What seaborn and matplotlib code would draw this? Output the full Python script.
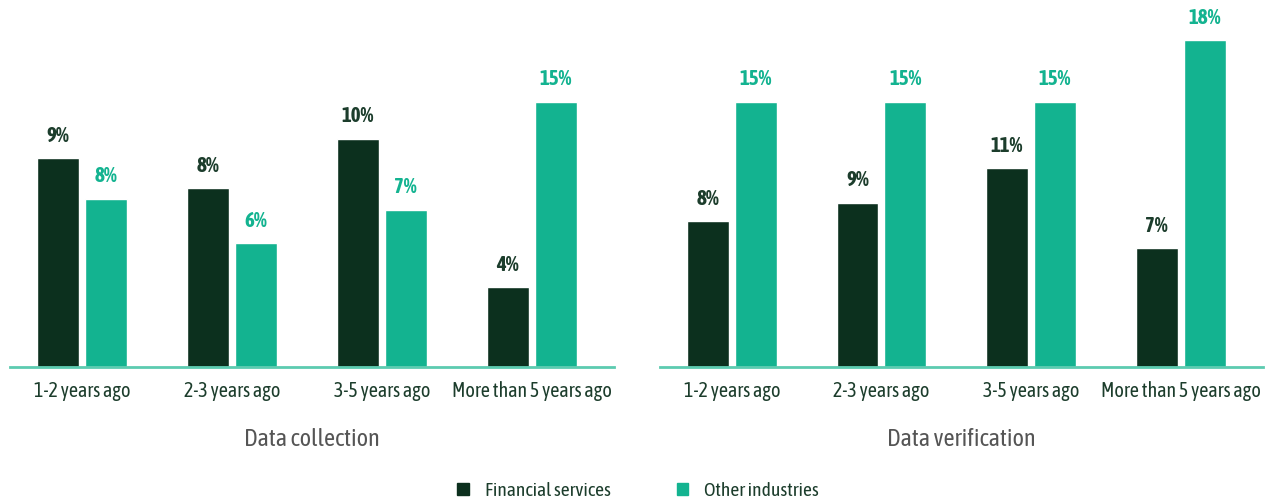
import seaborn as sns
import matplotlib.pyplot as plt
import pandas as pd
from matplotlib import font_manager

# periods and sectors
periods = ["1-2 years ago", "2-3 years ago", "3-5 years ago", "More than 5 years ago"]
sectors = ["Financial services", "Other industries"]

# bar heights (%), and the labels printed on top
collect_fin = [11.8, 10.1, 12.9, 4.5]
collect_oth = [9.5, 7.0, 8.9, 15.0]
verify_fin = [8.25, 9.3, 11.25, 6.7]
verify_oth = [15.0, 15.0, 15.0, 18.5]

collect_fin_lbl = ["9%", "8%", "10%", "4%"]
collect_oth_lbl = ["8%", "6%", "7%", "15%"]
verify_fin_lbl = ["8%", "9%", "11%", "7%"]
verify_oth_lbl = ["15%", "15%", "15%", "18%"]

dark = "#0c301e"
teal = "#13b390"
text_dark = "#1c3d2c"

sns.set_theme(style="white")

# look for a narrow font with a bold face, the original uses a condensed one
weights = {}
for f in font_manager.fontManager.ttflist:
    if "Narrow" in f.name or "Condensed" in f.name:
        w = f.weight if isinstance(f.weight, int) else 700 if "bold" in str(f.weight) else 400
        weights.setdefault(f.name, set()).add(w)
with_bold = sorted(n for n, ws in weights.items() if max(ws) >= 600)
narrow = with_bold or sorted(weights)
if narrow:
    plt.rcParams["font.family"] = [narrow[0], "DejaVu Sans"]
else:
    plt.rcParams["font.family"] = ["DejaVu Sans"]
    plt.rcParams["font.stretch"] = "condensed"

fig = plt.figure(figsize=(12.76, 5), dpi=100)
ax1 = fig.add_axes([10 / 1276, 0.2667, 604 / 1276, 0.706])
ax2 = fig.add_axes([660 / 1276, 0.2667, 603 / 1276, 0.706])

panels = [
    (ax1, "Data collection", collect_fin, collect_oth, collect_fin_lbl, collect_oth_lbl),
    (ax2, "Data verification", verify_fin, verify_oth, verify_fin_lbl, verify_oth_lbl),
]

for ax, title, fin, oth, fin_lbl, oth_lbl in panels:
    df = pd.DataFrame({
        "period": periods * 2,
        "sector": [sectors[0]] * 4 + [sectors[1]] * 4,
        "value": fin + oth,
    })
    sns.barplot(data=df, x="period", y="value", hue="sector", order=periods,
                hue_order=sectors, palette=[dark, teal], width=0.64, gap=0.125,
                saturation=1, legend=False, ax=ax)
    ax.bar_label(ax.containers[0], labels=fin_lbl, padding=9, color=text_dark,
                 fontsize=15, fontweight="bold")
    ax.bar_label(ax.containers[1], labels=oth_lbl, padding=9, color=teal,
                 fontsize=15, fontweight="bold")
    ax.set_xlim(-0.48, 3.55)
    ax.set_ylim(0, 20)
    ax.set_yticks([])
    ax.set_ylabel("")
    for s in ["top", "right", "left"]:
        ax.spines[s].set_visible(False)
    ax.spines["bottom"].set_color("#5ccbb0")
    ax.spines["bottom"].set_linewidth(2)
    ax.tick_params(axis="x", length=0, pad=10, labelsize=14.5, labelcolor=text_dark)
    ax.set_xlabel(title, fontsize=17.5, color="#555555", labelpad=20)

handles = [plt.Rectangle((0, 0), 1, 1, color=c) for c in [dark, teal]]
fig.legend(handles, sectors, loc="lower center", bbox_to_anchor=(0.5, -0.035),
           ncol=2, frameon=False, fontsize=14, handlelength=0.6, handleheight=0.6,
           handletextpad=0.8, columnspacing=3.4, labelcolor=text_dark)

fig.savefig("out.png", dpi=100)
